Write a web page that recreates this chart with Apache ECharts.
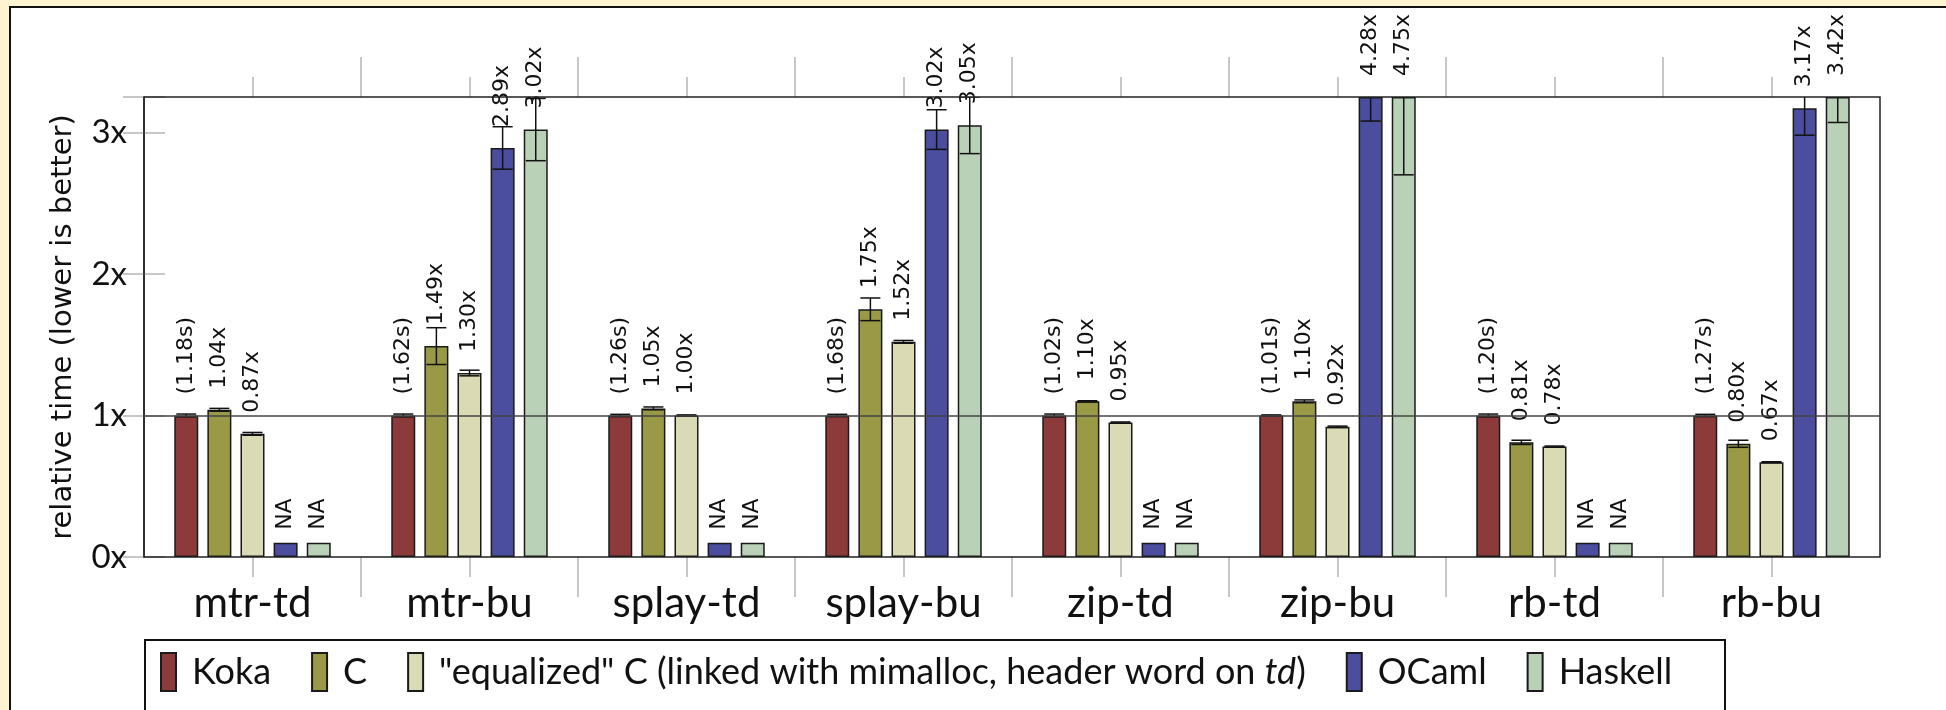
<!DOCTYPE html>
<html>
<head>
<meta charset="utf-8">
<script src="https://cdn.jsdelivr.net/npm/echarts@6/dist/echarts.min.js"></script>
<style>
  html, body { margin: 0; padding: 0; background: #fff; }
  #chart { width: 1946px; height: 710px; }
</style>
</head>
<body>
<div id="chart"></div>
<script>
const categories = ["mtr-td", "mtr-bu", "splay-td", "splay-bu", "zip-td", "zip-bu", "rb-td", "rb-bu"];

// Koka absolute times (seconds), the baseline for the relative values
const kokaTimes = [1.18, 1.62, 1.26, 1.68, 1.02, 1.01, 1.2, 1.27];
const kokaRel = [1, 1, 1, 1, 1, 1, 1, 1];
const cRel = [1.04, 1.49, 1.05, 1.75, 1.1, 1.1, 0.81, 0.8];
const eqRel = [0.87, 1.3, 1.0, 1.52, 0.95, 0.92, 0.78, 0.67];
const ocamlRel = [null, 2.89, null, 3.02, null, 4.28, null, 3.17];
const haskellRel = [null, 3.02, null, 3.05, null, 4.75, null, 3.42];

// error bars (+/-)
const kokaErr = [0.01, 0.01, 0.008, 0.008, 0.01, 0.004, 0.01, 0.008];
const cErr = [0.01, 0.13, 0.01, 0.08, 0.004, 0.01, 0.015, 0.025];
const eqErr = [0.01, 0.02, 0.004, 0.01, 0.004, 0.005, 0.004, 0.003];
const ocamlErr = [null, 0.15, null, 0.14, null, 1.2, null, 0.19];
const haskellErr = [null, 0.22, null, 0.2, null, 2.05, null, 0.35];

const naHeight = 0.1;
const yMin = 0;
const yMax = 3.25;
const yInterval = 1;
const baseline = 1;

const seriesNames = ["Koka", "C", "\"equalized\" C (linked with mimalloc, header word on td)", "OCaml", "Haskell"];
const colors = ["#8c3a3a", "#9a9a46", "#dadab5", "#4b4e9e", "#b9d2b7"];

const barW = 24;
const barGap = 0.38;
const pitch = barW * (1 + barGap);

const labelFont = "DejaVu Sans";
const textFont = "Lato";

function barSeries(idx, values, labelFor) {
  return {
    name: seriesNames[idx],
    type: "bar",
    barWidth: barW,
    barGap: barGap * 100 + "%",
    z: 3,
    itemStyle: { color: colors[idx], borderColor: "#1a1a1a", borderWidth: 1.5 },
    data: values.map((v, i) => {
      const na = v === null;
      return {
        value: na ? naHeight : Math.min(v, yMax),
        label: {
          show: true,
          position: "top",
          rotate: 90,
          align: "left",
          verticalAlign: "middle",
          distance: na ? 13 : 21,
          fontFamily: labelFont,
          fontSize: 22,
          color: "#111",
          formatter: na ? "NA" : labelFor(v, i),
        },
      };
    }),
  };
}

const relLabel = (v) => v.toFixed(2) + "x";

const errData = [];
[[kokaRel, kokaErr], [cRel, cErr], [eqRel, eqErr], [ocamlRel, ocamlErr], [haskellRel, haskellErr]].forEach(([vals, errs], s) => {
  vals.forEach((v, i) => {
    if (v !== null && errs[i] !== null) errData.push([i, s, v, errs[i]]);
  });
});

const chart = echarts.init(document.getElementById("chart"), null, { renderer: "canvas" });

const tickAxis = (position, values, length) => ({
  type: "value",
  position,
  min: 0,
  max: categories.length,
  axisLine: { show: false },
  axisLabel: { show: false },
  splitLine: { show: false },
  axisTick: { show: true, inside: false, length, customValues: values, lineStyle: { color: "#b5b5b5", width: 1.5 } },
});

const boundaries = categories.slice(1).map((_, i) => i + 1);
const centers = categories.map((_, i) => i + 0.5);

chart.setOption({
  backgroundColor: "#fff",
  animation: false,
  graphic: [
    { type: "rect", z: 100, shape: { x: 0, y: 0, width: 1946, height: 6 }, style: { fill: "#fff3d0" } },
    { type: "rect", z: 100, shape: { x: 0, y: 0, width: 9, height: 710 }, style: { fill: "#fff3d0" } },
    { type: "rect", z: 100, shape: { x: 9, y: 6, width: 1937, height: 2 }, style: { fill: "#111" } },
    { type: "rect", z: 100, shape: { x: 9, y: 6, width: 2, height: 704 }, style: { fill: "#111" } },
    { type: "rect", z: 0, shape: { x: 145, y: 640, width: 1580, height: 100 }, style: { fill: "#fff", stroke: "#111", lineWidth: 2 } },
  ],
  grid: {
    left: 144,
    right: 66,
    top: 97,
    bottom: 153,
    show: true,
    borderColor: "#222",
    borderWidth: 1.5,
    backgroundColor: "transparent",
    z: 5,
  },
  legend: {
    left: 160,
    top: 652,
    padding: 0,
    itemGap: 40,
    itemWidth: 15,
    itemHeight: 38,
    icon: "rect",
    data: seriesNames,
    formatter: (name) => {
      if (name.endsWith("on td)")) {
        return "{n|" + name.slice(0, -3) + "}{i|td}{e|)}";
      }
      return "{n|" + name + "}";
    },
    textStyle: {
      fontFamily: textFont,
      fontSize: 36,
      color: "#111",
      rich: {
        n: { fontFamily: textFont, fontSize: 36, color: "#111", padding: [0, 0, 0, 11] },
        i: { fontFamily: textFont, fontSize: 36, color: "#111", fontStyle: "italic" },
        e: { fontFamily: textFont, fontSize: 36, color: "#111" },
      },
    },
  },
  xAxis: [
    {
      type: "category",
      data: categories,
      position: "bottom",
      axisLine: { show: false },
      axisTick: { show: false },
      axisLabel: { margin: 25, fontFamily: textFont, fontSize: 42, color: "#111" },
    },
    tickAxis("bottom", boundaries, 40),
    tickAxis("bottom", centers, 20),
    tickAxis("top", boundaries, 40),
    tickAxis("top", centers, 20),
  ],
  yAxis: [
    {
      type: "value",
      min: yMin,
      max: yMax,
      interval: yInterval,
      name: "relative time (lower is better)",
      nameLocation: "middle",
      nameGap: 66,
      nameTextStyle: { fontFamily: labelFont, fontSize: 29, color: "#111" },
      axisLine: { show: true, lineStyle: { color: "#222", width: 1.5 } },
      axisTick: { show: true, inside: true, length: 21, lineStyle: { color: "#b5b5b5", width: 1.5 } },
      axisLabel: {
        margin: 17,
        fontFamily: textFont,
        fontSize: 33,
        color: "#111",
        formatter: (v) => (Number.isInteger(v) ? v + "x" : ""),
      },
      splitLine: { show: false },
    },
    {
      type: "value",
      min: yMin,
      max: yMax,
      interval: yInterval,
      position: "right",
      axisLine: { show: false },
      axisLabel: { show: false },
      axisTick: { show: true, inside: true, length: 21, lineStyle: { color: "#b5b5b5", width: 1.5 } },
      splitLine: { show: false },
    },
  ],
  series: [
    {
      type: "line",
      data: [],
      z: 1,
      silent: true,
      markLine: {
        silent: true,
        symbol: "none",
        label: { show: false },
        lineStyle: { color: "#444", width: 1.5, type: "solid" },
        data: [{ yAxis: baseline }],
      },
    },
    barSeries(0, kokaRel, (v, i) => "(" + kokaTimes[i].toFixed(2) + "s)"),
    barSeries(1, cRel, relLabel),
    barSeries(2, eqRel, relLabel),
    barSeries(3, ocamlRel, relLabel),
    barSeries(4, haskellRel, relLabel),
    {
      type: "custom",
      z: 4,
      clip: true,
      silent: true,
      data: errData,
      renderItem: (params, api) => {
        const cat = api.value(0);
        const s = api.value(1);
        const v = api.value(2);
        const e = api.value(3);
        const x = api.coord([cat, v])[0] + (s - 2) * pitch;
        const yTop = api.coord([cat, v + e])[1];
        const yBot = api.coord([cat, v - e])[1];
        const half = 10;
        const style = { stroke: "#111", lineWidth: 1.5 };
        return {
          type: "group",
          children: [
            { type: "line", shape: { x1: x, y1: yTop, x2: x, y2: yBot }, style },
            { type: "line", shape: { x1: x - half, y1: yTop, x2: x + half, y2: yTop }, style },
            { type: "line", shape: { x1: x - half, y1: yBot, x2: x + half, y2: yBot }, style },
          ],
        };
      },
    },
  ],
});
</script>
</body>
</html>
